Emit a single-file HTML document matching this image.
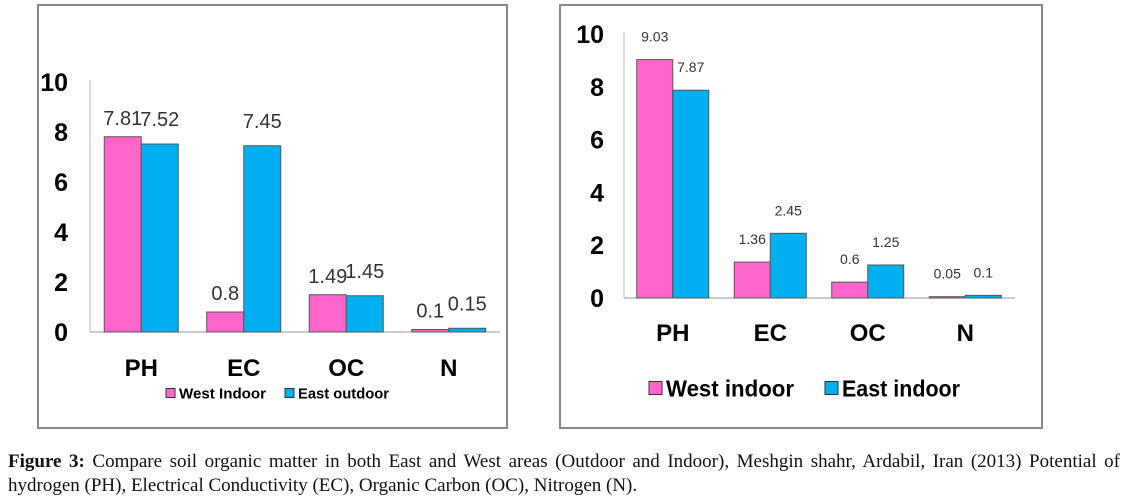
<!DOCTYPE html>
<html><head><meta charset="utf-8"><style>
body{margin:0;width:1125px;height:501px;background:#fff;overflow:hidden;position:relative;font-family:"Liberation Sans",sans-serif}
svg{position:absolute;left:0;top:0}
#cap{position:absolute;left:8px;top:450px;width:1112px;font-family:"Liberation Serif",serif;font-size:19px;line-height:24px;color:#111;white-space:nowrap}
#cap .l1{text-align:justify;text-align-last:justify;white-space:normal}
</style></head><body>
<svg id="s" width="1125" height="450"></svg>
<div id="cap"><div class="l1"><b>Figure 3:</b> Compare soil organic matter in both East and West areas (Outdoor and Indoor), Meshgin shahr, Ardabil, Iran (2013) Potential of</div><div>hydrogen (PH), Electrical Conductivity (EC), Organic Carbon (OC), Nitrogen (N).</div></div>
<script>
const categories=["PH","EC","OC","N"];
const leftWest=[7.81,0.8,1.49,0.1];
const leftEast=[7.52,7.45,1.45,0.15];
const leftWestLabels=["7.81","0.8","1.49","0.1"];
const leftEastLabels=["7.52","7.45","1.45","0.15"];
const rightWest=[9.03,1.36,0.6,0.05];
const rightEast=[7.87,2.45,1.25,0.1];
const rightWestLabels=["9.03","1.36","0.6","0.05"];
const rightEastLabels=["7.87","2.45","1.25","0.1"];
const ticks=[0,2,4,6,8,10];
const leftLegend=["West Indoor","East outdoor"];
const rightLegend=["West  indoor","East  indoor"];
const NS="http://www.w3.org/2000/svg";
const s=document.getElementById('s');
function mk(t,a,txt){const e=document.createElementNS(NS,t);for(const k in a)e.setAttribute(k,a[k]);if(txt!==undefined)e.textContent=txt;s.appendChild(e);return e;}
const PINK="#ff66cc",BLUE="#00b0f0";
function chart(c){
  const fr=mk('rect',{x:c.fx,y:5,width:c.fw,height:423,fill:'none',stroke:'#888',"stroke-width":2});
  
  
  const y=v=>c.y0-(c.y0-c.y10)*v/10;
  const x=i=>c.x0+c.gw*(i+0.5);
  const ax=mk('line',{x1:c.x0,y1:c.y10-2,x2:c.x0,y2:c.y0,stroke:'#bbb'});
  
  
  const xa=mk('line',{x1:c.x0,y1:c.y0,x2:c.xend,y2:c.y0,stroke:'#999'});
  
  
  ticks.forEach(t=>{
    const tl=mk('text',{x:c.x0-c.tickOff,y:y(t)+9,"text-anchor":"end","font-size":25,"font-weight":"bold",fill:'#000',"font-family":"Liberation Sans"},t);
    
    
  });
  categories.forEach((cat,i)=>{
    const cx=x(i);
    const b1=mk('rect',{x:cx-c.bw,y:y(c.w[i]),width:c.bw,height:c.y0-y(c.w[i]),fill:PINK,stroke:'#555',"stroke-width":1});
    
    
    const b2=mk('rect',{x:cx,y:y(c.e[i]),width:c.bw,height:c.y0-y(c.e[i]),fill:BLUE,stroke:'#555',"stroke-width":1});
    
    
    const l1=mk('text',{x:cx-c.bw/2,y:y(c.w[i])-c.lo1,"text-anchor":"middle","font-size":c.lfs,fill:'#333'},c.wl[i]);
    
    
    const l2=mk('text',{x:cx+c.bw/2+c.lx2,y:y(c.e[i])-c.lo2,"text-anchor":"middle","font-size":c.lfs,fill:'#333'},c.el[i]);
    
    
    const cl=mk('text',{x:cx,y:c.catY,"text-anchor":"middle","font-size":24,"font-weight":"bold",fill:'#000'},cat);
    
    
  });
  const cols=[PINK,BLUE];
  c.legend.forEach((n,k)=>{
    const sq=mk('rect',{x:c.legX[k],y:c.legY-c.sq/2,width:c.sq,height:c.sq,fill:cols[k],stroke:'#333'});
    
    
    const lt=mk('text',{x:c.legX[k]+c.sq+4,y:c.legY+c.lgfs*0.36,"font-size":c.lgfs,"font-weight":"bold",fill:'#000',"xml:space":"preserve",textLength:c.legW[k],lengthAdjust:"spacingAndGlyphs"},n);
    
    
  });
}
chart({id:'left',fx:38,fw:469,x0:90,xend:500,gw:102.5,y0:332,y10:82,bw:37,w:leftWest,e:leftEast,wl:leftWestLabels,el:leftEastLabels,
  lfs:20,lo1:12,lo2:18,lx2:0,tickOff:22,catY:376,legend:leftLegend,legX:[166,285],legY:393,sq:9,lgfs:15,legW:[87,91]});
chart({id:'right',fx:560,fw:482,x0:624,xend:1015,gw:97.5,y0:298,y10:34,bw:36,w:rightWest,e:rightEast,wl:rightWestLabels,el:rightEastLabels,
  lfs:14,lo1:18,lo2:18,lx2:0,tickOff:20,catY:341,legend:rightLegend,legX:[649,825],legY:388,sq:13,lgfs:23,legW:[128,118]});
</script>
</body></html>
